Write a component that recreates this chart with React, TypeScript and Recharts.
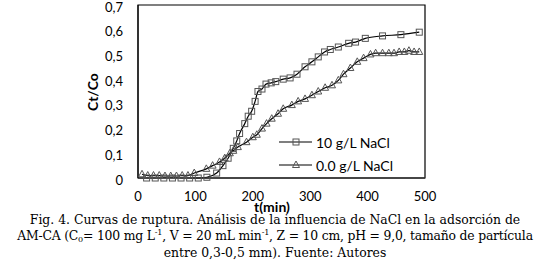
import { LineChart, Line, XAxis, YAxis, ReferenceArea, Legend } from 'recharts';

// t (min) and Ct/Co for each run
const tenTime = [15, 30, 45, 60, 75, 90, 105, 120, 137, 148, 157, 166, 172, 177, 186, 192, 198, 204, 209, 216, 223, 232, 240, 253, 265, 277, 291, 303, 314, 325, 335, 349, 367, 379, 396, 426, 458, 490];
const tenCtCo = [0, 0, 0, 0, 0, 0, 0, 0.003, 0.02, 0.05, 0.08, 0.12, 0.15, 0.18, 0.22, 0.25, 0.27, 0.31, 0.35, 0.36, 0.38, 0.385, 0.39, 0.4, 0.405, 0.42, 0.45, 0.47, 0.49, 0.51, 0.52, 0.53, 0.545, 0.55, 0.565, 0.575, 0.58, 0.59];

const zeroTime = [7, 17, 27, 37, 47, 57, 67, 77, 87, 98, 119, 130, 142, 151, 160, 166, 174, 189, 200, 207, 216, 224, 233, 244, 253, 268, 279, 291, 303, 314, 326, 338, 349, 358, 370, 382, 393, 405, 414, 426, 437, 446, 455, 464, 472, 481, 490];
const zeroCtCo = [0.015, 0.01, 0.01, 0.01, 0.008, 0.008, 0.008, 0.01, 0.01, 0.02, 0.037, 0.05, 0.065, 0.08, 0.1, 0.11, 0.125, 0.145, 0.165, 0.175, 0.2, 0.22, 0.24, 0.26, 0.28, 0.295, 0.31, 0.32, 0.335, 0.35, 0.365, 0.375, 0.395, 0.42, 0.445, 0.47, 0.485, 0.5, 0.505, 0.505, 0.505, 0.505, 0.51, 0.51, 0.515, 0.51, 0.51];

const seriesNames = ['10 g/L NaCl', '0.0 g/L NaCl'];
const xTicks = [0, 100, 200, 300, 400, 500];
const yTicks = [0, 0.1, 0.2, 0.3, 0.4, 0.5, 0.6, 0.7];

const tenData = tenTime.map((t, i) => ({ t, v: tenCtCo[i] }));
const zeroData = zeroTime.map((t, i) => ({ t, v: zeroCtCo[i] }));

const FONT = 'Lato, "Liberation Sans", sans-serif';
const MARK = '#555';

const SquareDot = (props: any) => {
  const { cx, cy, index } = props;
  return <rect key={`sq-${index}`} x={cx - 3} y={cy - 3} width={6} height={6} fill="none" stroke={MARK} strokeWidth={1} />;
};

const TriangleDot = (props: any) => {
  const { cx, cy, index } = props;
  return (
    <polygon
      key={`tr-${index}`}
      points={`${cx},${cy - 4} ${cx - 3.5},${cy + 2.5} ${cx + 3.5},${cy + 2.5}`}
      fill="none"
      stroke={MARK}
      strokeWidth={1}
    />
  );
};

const fmtY = (v: number) => (v === 0 ? '0' : v.toFixed(1).replace('.', ','));

const XTick = (props: any) => {
  const { x, y, payload } = props;
  return (
    <text x={x} y={y + 18} textAnchor="middle" dominantBaseline="central" fontFamily={FONT} fontSize={13} fill="#000">
      {payload.value}
    </text>
  );
};

const YTick = (props: any) => {
  const { x, y, payload } = props;
  return (
    <text x={x - 15} y={y + 1.5} textAnchor="end" dominantBaseline="central" fontFamily={FONT} fontSize={13} fill="#000">
      {fmtY(payload.value)}
    </text>
  );
};

const renderLegend = () => (
  <svg width={140} height={50} style={{ display: 'block' }}>
    {seriesNames.map((name, i) => {
      const y = 11 + i * 23;
      return (
        <g key={name}>
          <line x1={0} x2={33} y1={y} y2={y} stroke="#000" strokeWidth={1.2} />
          {i === 0 ? <SquareDot cx={17} cy={y} index={0} /> : <TriangleDot cx={17} cy={y} index={0} />}
          <text x={37} y={y} dominantBaseline="central" fontFamily={FONT} fontSize={14} fill="#000">
            {name}
          </text>
        </g>
      );
    })}
  </svg>
);

const sub = { fontSize: '0.65em', lineHeight: 0, position: 'relative' as const, top: 2 };
const sup = { fontSize: '0.65em', lineHeight: 0, position: 'relative' as const, top: -5 };

export default function App() {
  return (
    <div style={{ position: 'absolute', left: 0, top: 0, width: 550, height: 264, background: '#fff', overflow: 'hidden' }}>
      <LineChart width={550} height={215} margin={{ top: 5, right: 125, left: 0, bottom: 0 }}>
        <XAxis
          type="number"
          dataKey="t"
          domain={[0, 500]}
          ticks={xTicks}
          interval={0}
          tickLine={false}
          tickSize={0}
          tickMargin={0}
          height={37}
          axisLine={{ stroke: '#333', strokeWidth: 1.5 }}
          tick={XTick}
          label={{
            content: () => (
              <text x={272} y={206} textAnchor="middle" dominantBaseline="central" fontFamily={FONT} fontSize={14} fontWeight="bold" fill="#000">
                t(min)
              </text>
            ),
          }}
        />
        <YAxis
          type="number"
          domain={[0, 0.7]}
          ticks={yTicks}
          interval={0}
          tickLine={false}
          tickSize={0}
          tickMargin={0}
          width={138}
          axisLine={{ stroke: '#000' }}
          tick={YTick}
          label={{
            content: () => (
              <text x={92} y={92} transform="rotate(-90 92 92)" textAnchor="middle" dominantBaseline="central" fontFamily={FONT} fontSize={14} fontWeight="bold" fill="#000">
                Ct/Co
              </text>
            ),
          }}
        />
        <ReferenceArea x1={0} x2={500} y1={0} y2={0.7} fill="none" stroke="#000" strokeWidth={1.2} />
        <Line
          data={tenData}
          dataKey="v"
          name={seriesNames[0]}
          type="monotone"
          stroke="#000"
          strokeWidth={1.2}
          dot={SquareDot}
          isAnimationActive={false}
        />
        <Line
          data={zeroData}
          dataKey="v"
          name={seriesNames[1]}
          type="monotone"
          stroke="#000"
          strokeWidth={1.2}
          dot={TriangleDot}
          isAnimationActive={false}
        />
        <Legend
          layout="vertical"
          align="center"
          verticalAlign="middle"
          content={renderLegend}
          wrapperStyle={{ left: 279, top: 131, width: 140 }}
        />
      </LineChart>
      <div
        style={{
          position: 'absolute',
          left: -6,
          top: 212,
          width: 562,
          textAlign: 'center',
          fontFamily: '"DejaVu Serif", serif',
          fontSize: 12.4,
          lineHeight: '16.3px',
          color: '#000',
          whiteSpace: 'nowrap',
        }}
      >
        <div>Fig. 4. Curvas de ruptura. Análisis de la influencia de NaCl en la adsorción de</div>
        <div style={{ letterSpacing: -0.2 }}>
          AM-CA (C<span style={sub}>0</span>= 100 mg L<span style={sup}>-1</span>, V = 20 mL min<span style={sup}>-1</span>, Z = 10 cm, pH = 9,0, tamaño de partícula
        </div>
        <div>entre 0,3-0,5 mm). Fuente: Autores</div>
      </div>
    </div>
  );
}
